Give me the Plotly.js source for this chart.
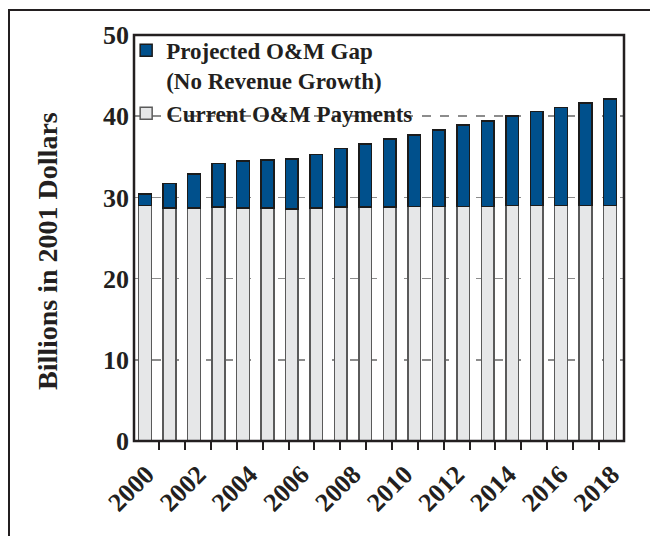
<!DOCTYPE html>
<html>
<head>
<meta charset="utf-8">
<script src="https://cdn.plot.ly/plotly-3.0.1.min.js"></script>
<style>
  html, body { margin: 0; padding: 0; background: #fff; }
  #wrap { position: relative; width: 650px; height: 536px; overflow: hidden; }
  #chart { position: absolute; left: 0; top: 0; width: 650px; height: 536px; }
  #frame { position: absolute; left: 8px; top: 9px; width: 700px; height: 600px;
           border-left: 2.5px solid #231f20; border-top: 2.5px solid #231f20; pointer-events: none; }
</style>
</head>
<body>
<div id="wrap">
  <div id="chart"></div>
  <div id="frame"></div>
</div>
<script>
// Bars (one per year)
const years = [2000, 2001, 2002, 2003, 2004, 2005, 2006, 2007, 2008, 2009,
               2010, 2011, 2012, 2013, 2014, 2015, 2016, 2017, 2018, 2019];
// Current O&M payments (billions, 2001 dollars)
const currentPayments = [29.0, 28.7, 28.7, 28.8, 28.7, 28.7, 28.6, 28.7, 28.8, 28.8,
                         28.8, 28.9, 28.9, 28.9, 28.9, 29.0, 29.0, 29.0, 29.0, 29.0];
// Projected O&M gap stacked on top
const projectedGap = [1.4, 3.0, 4.2, 5.4, 5.8, 5.9, 6.1, 6.6, 7.2, 7.8,
                      8.4, 8.8, 9.4, 10.0, 10.5, 11.0, 11.6, 12.1, 12.6, 13.1];
// Axis tick labels
const xTickVals = [2000, 2002, 2004, 2006, 2008, 2010, 2012, 2014, 2016, 2018];
const xTickText = ['2000', '2002', '2004', '2006', '2008', '2010', '2012', '2014', '2016', '2018'];
const yTickVals = [0, 10, 20, 30, 40, 50];

const seriesNames = ['Current O&M Payments', 'Projected O&M Gap<br>(No Revenue Growth)'];
const yTitle = 'Billions in 2001 Dollars';

const ink = '#231f20';
const serif = 'Liberation Serif, Times New Roman, serif';
const labelRange = [1999.52, 2018.47];

const traces = [
  {
    type: 'bar', x: years, y: currentPayments, name: seriesNames[0],
    xaxis: 'x3', width: 0.52,
    marker: { color: '#e6e7e8', line: { color: '#5a5a5a', width: 1.5 } },
    hoverinfo: 'x+y'
  },
  {
    type: 'bar', x: years, y: projectedGap, name: seriesNames[1],
    xaxis: 'x3', width: 0.52,
    marker: { color: '#00508c', line: { color: '#1b1b1b', width: 1.5 } },
    hoverinfo: 'x+y'
  },
  // carriers for the tick-mark axis and the year-label axis (draw nothing)
  {
    type: 'scatter', mode: 'none', x: xTickVals, y: xTickVals.map(() => 0),
    xaxis: 'x', yaxis: 'y', showlegend: false, hoverinfo: 'skip'
  },
  {
    type: 'scatter', mode: 'none', x: xTickVals, y: xTickVals.map(() => 0),
    xaxis: 'x2', yaxis: 'y', showlegend: false, hoverinfo: 'skip'
  }
];

const layout = {
  width: 650, height: 536,
  margin: { l: 134, r: 26, t: 35, b: 95 },
  paper_bgcolor: 'rgba(0,0,0,0)',
  plot_bgcolor: '#ffffff',
  barmode: 'stack',
  showlegend: true,
  legend: {
    x: -0.016, y: 1.015, xanchor: 'left', yanchor: 'top',
    bgcolor: 'rgba(0,0,0,0)', borderwidth: 0,
    traceorder: 'reversed', valign: 'top',
    font: { family: serif, size: 23, color: ink, weight: 'bold' },
    itemwidth: 30, tracegroupgap: 0
  },
  // main axis: short tick marks between the year labels
  xaxis: {
    range: labelRange,
    tickmode: 'linear', tick0: 2000.5, dtick: 1,
    ticks: 'outside', ticklen: 8, tickwidth: 2, tickcolor: ink,
    showticklabels: false,
    showgrid: false, zeroline: false, showline: false
  },
  // year labels
  xaxis2: {
    overlaying: 'x', anchor: 'y', side: 'bottom',
    range: labelRange,
    tickmode: 'array', tickvals: xTickVals, ticktext: xTickText,
    tickangle: -45, ticks: '',
    tickfont: { family: serif, size: 26, color: ink, weight: 'bold' },
    ticklabelstandoff: 12,
    showgrid: false, zeroline: false, showline: false
  },
  // bar positions
  xaxis3: {
    overlaying: 'x', anchor: 'y', side: 'bottom',
    range: [1999.55, 2019.57],
    showticklabels: false, ticks: '',
    showgrid: false, zeroline: false, showline: false
  },
  yaxis: {
    range: [0, 50],
    tickmode: 'array', tickvals: yTickVals,
    ticks: '', ticklabelstandoff: 4,
    tickfont: { family: serif, size: 26, color: ink, weight: 'bold' },
    showgrid: true, gridcolor: '#8c8c8c', gridwidth: 1.5, griddash: 'dash',
    zeroline: false, showline: false
  },
  // plot-area frame
  shapes: [{
    type: 'rect', xref: 'paper', yref: 'paper', x0: 0, x1: 1, y0: 0, y1: 1,
    line: { color: ink, width: 2.5 }, fillcolor: 'rgba(0,0,0,0)', layer: 'above'
  }],
  annotations: [{
    text: yTitle, xref: 'paper', yref: 'paper',
    x: -0.1755, y: 0.468, xanchor: 'center', yanchor: 'middle',
    textangle: -90, showarrow: false,
    font: { family: serif, size: 28, color: ink, weight: 'bold' }
  }]
};

Plotly.newPlot('chart', traces, layout, { displayModeBar: false, staticPlot: true });
</script>
</body>
</html>
